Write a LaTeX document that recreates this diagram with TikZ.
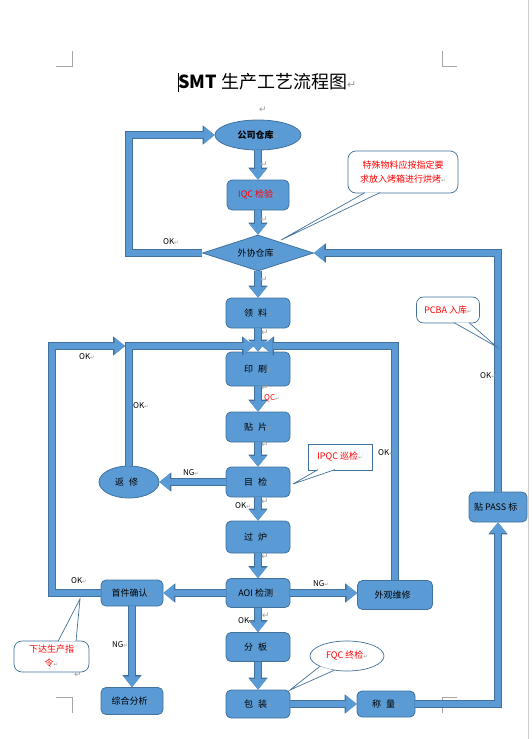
\documentclass[tikz,border=0pt]{standalone}
\usepackage{fontspec}
\setmainfont{Noto Sans CJK SC}
\newfontfamily\dvfont{DejaVu Sans}
\usetikzlibrary{arrows.meta,shapes.geometric}
\definecolor{fillblue}{HTML}{5B9BD5}
\definecolor{edgeblue}{HTML}{41719C}
\definecolor{rtgray}{HTML}{9A9A9A}
\definecolor{txtred}{HTML}{FF0000}
\newcommand{\rtm}{{\color{rtgray}\dvfont\fontsize{5.5}{6}\selectfont ↵}}
\newcommand{\bigrt}{{\color{rtgray}\dvfont\fontsize{9}{9}\selectfont ↵}}
\newcommand{\gp}{\hspace{5pt}}
\newcommand{\barrow}[1]{\draw[blkout] #1; \draw[blkin] #1;}
\tikzset{
  box/.style={draw=edgeblue, fill=fillblue, line width=0.8pt, rounded corners=5pt,
    minimum width=64pt, minimum height=30pt, inner sep=1pt, text=black,
    font=\fontsize{9}{10}\selectfont},
  oval/.style={ellipse, draw=edgeblue, fill=fillblue, line width=0.8pt, inner sep=0pt,
    text=black, font=\fontsize{9}{10}\selectfont},
  blkout/.style={line width=8.2pt, draw=edgeblue,
    -{Triangle[width=19.4pt,length=12pt,line width=0pt]}},
  blkin/.style={line width=6.4pt, draw=fillblue,
    -{Triangle[width=17pt,length=10.5pt,line width=0pt]}},
  lab/.style={inner sep=0pt, font=\fontsize{8}{9}\selectfont, text=black},
  call/.style={draw=edgeblue, fill=white, line width=0.7pt, text=txtred, align=center,
    inner sep=1pt, font=\fontsize{9}{14}\selectfont},
  ptr/.style={draw=edgeblue, line width=0.7pt},
  rmk/.style={inner sep=0pt},
  crop/.style={draw=gray!70, line width=0.6pt}
}
\begin{document}
\begin{tikzpicture}[x=1pt,y=-1pt]
\useasboundingbox (0,0) rectangle (531,739);

% page decorations
\draw[crop] (56,66) -- (72,66) -- (72,51);
\draw[crop] (442,51) -- (442,66) -- (457,66);
\draw[crop] (56,697) -- (72,697) -- (72,713);
\draw[crop] (457,697) -- (442,697) -- (442,713);
\draw[draw=gray!40, line width=0.8pt] (528,0) -- (528,739);

% title
\draw[black, line width=0.8pt] (178,73) -- (178,92);
\node[anchor=west, inner sep=0pt, font=\fontsize{18}{20}\selectfont] (title) at (178,82)
  {{\bfseries SMT} 生产工艺流程图{\color{rtgray}\dvfont\fontsize{11}{11}\selectfont ↵}};
\node[rmk] (r0) at (263,110) {\bigrt};

% nodes
\node[oval, minimum width=86pt, minimum height=30pt, font=\fontsize{9}{10}\selectfont\bfseries] (gs) at (258,135) {公司仓库\rtm};
\node[box, minimum width=62pt] (iqc) at (258,195) {\textcolor{txtred}{IQC 检验}\rtm};
\node[diamond, aspect=3, draw=edgeblue, fill=fillblue, line width=0.8pt, inner sep=0pt,
      minimum width=111pt, minimum height=36pt, font=\fontsize{9}{10}\selectfont] (wx) at (258,253) {外协仓库\rtm};
\node[box] (lk) at (258,313) {领\gp 料\rtm};
\node[box, minimum height=34pt] (ys) at (258,369) {印\gp 刷\rtm};
\node[box] (tp) at (258,427) {贴\gp 片\rtm};
\node[box] (mj) at (258,482) {目\gp 检\rtm};
\node[box, minimum height=32pt] (gl) at (258,537) {过\gp 炉\rtm};
\node[box, minimum height=29pt] (aoi) at (258,593) {AOI 检测\rtm};
\node[box, minimum height=29pt] (fb) at (258,647) {分\gp 板\rtm};
\node[box, minimum height=28pt] (bz) at (258,704) {包\gp 装\rtm};
\node[oval, minimum width=60pt, minimum height=32pt] (fx) at (129,482) {返\gp 修\rtm};
\node[box, minimum width=62pt, minimum height=26pt] (sj) at (132,593) {首件确认\rtm};
\node[box, minimum width=62pt, minimum height=27pt] (zh) at (132,701) {综合分析\rtm};
\node[box, minimum width=75pt, minimum height=29pt] (wg) at (395,595) {外观维修\rtm};
\node[box, minimum width=58pt, minimum height=26pt] (cl) at (386,704) {称\gp 量\rtm};
\node[box, minimum width=58pt, minimum height=30pt] (pass) at (498,507) {贴 PASS 标\rtm};

% helper coordinates
\coordinate (lp) at (129,135);
\coordinate (m1) at (254,346);
\coordinate (m2) at (262,346);
\coordinate (o1) at (52,346);
\coordinate (o2) at (125,346);

% loops
\barrow{(wx.west) -| (lp) -- (gs.west)}
\barrow{(pass.north) |- (wx.east)}
\barrow{(cl.east) -| (pass.south)}
\barrow{(sj.west) -| (o1) -- (o2)}
\barrow{(fx.north) |- (m1)}
\barrow{(wg.north) |- (m2)}

% main column
\barrow{(gs) -- (iqc)}
\barrow{(iqc) -- (wx)}
\barrow{(wx) -- (lk)}
\barrow{(lk) -- (ys)}
\barrow{(ys) -- (tp)}
\barrow{(tp) -- (mj)}
\barrow{(mj) -- (gl)}
\barrow{(gl) -- (aoi)}
\barrow{(aoi) -- (fb)}
\barrow{(fb) -- (bz)}
\barrow{(mj) -- (fx)}
\barrow{(aoi) -- (sj)}
\barrow{(aoi.east) -- (aoi.east -| wg.west)}
\barrow{(sj) -- (zh)}
\barrow{(bz) -- (cl)}

% connector labels
\node[lab] (l1) at (171,242) {OK\rtm};
\node[lab] (l2) at (87,357) {OK\rtm};
\node[lab] (l3) at (141,406) {OK\rtm};
\node[lab, text=txtred] (l4) at (272,398) {QC\rtm};
\node[lab] (l5) at (386,453) {OK\rtm};
\node[lab] (l6) at (191,473) {NG\rtm};
\node[lab] (l7) at (243,506) {OK\rtm};
\node[lab] (l8) at (488,376) {OK\rtm};
\node[lab] (l9) at (79,581) {OK\rtm};
\node[lab] (l10) at (321,584) {NG\rtm};
\node[lab] (l11) at (246,621) {OK\rtm};
\node[lab] (l12) at (120,645) {NG\rtm};

% paragraph marks
\node[rmk] (r1) at (264,165) {\bigrt};
\node[rmk] (r2) at (264,220) {\bigrt};
\node[rmk] (r3) at (264,280) {\bigrt};
\node[rmk] (r4) at (265,333) {\bigrt};
\node[rmk] (r5) at (265,388) {\bigrt};
\node[rmk] (r6) at (265,445) {\bigrt};
\node[rmk] (r7) at (265,502) {\bigrt};
\node[rmk] (r8) at (265,557) {\bigrt};
\node[rmk] (r9) at (266,616) {\bigrt};
\node[rmk] (r10) at (78,675) {\bigrt};

% callouts
\node[call, rounded corners=8pt, minimum width=110pt, minimum height=42pt] (tsl) at (403,172)
  {特殊物料应按指定要\\求放入烤箱进行烘烤\rtm};
\coordinate (ta) at (365,192.6); \coordinate (tb) at (380,192.6); \coordinate (tt) at (281,240);
\fill[white] (ta) -- (tt) -- (tb) -- cycle; \draw[ptr] (ta) -- (tt) -- (tb);

\node[call, rounded corners=7pt, minimum width=63pt, minimum height=26pt] (pcba) at (448,310) {PCBA 入库\rtm};
\coordinate (pa) at (454,322.6); \coordinate (pb) at (469,322.6); \coordinate (pt) at (497,347);
\fill[white] (pa) -- (pt) -- (pb) -- cycle; \draw[ptr] (pa) -- (pt) -- (pb);

\node[call, minimum width=64pt, minimum height=26pt] (ipqc) at (340,457) {IPQC 巡检\rtm};
\coordinate (ia) at (318,469.6); \coordinate (ib) at (335,469.6); \coordinate (it) at (293,484);
\fill[white] (ia) -- (it) -- (ib) -- cycle; \draw[ptr] (ia) -- (it) -- (ib);

\node[call, ellipse, inner sep=0pt, minimum width=74pt, minimum height=30pt] (fqc) at (347,656) {FQC 终检\rtm};
\coordinate (ft) at (290,690);
\fill[white] (fqc.201) -- (ft) -- (fqc.228) -- cycle; \draw[ptr] (fqc.201) -- (ft) -- (fqc.228);

\node[call, rounded corners=8pt, minimum width=75pt, minimum height=31pt] (xd) at (51.5,656.5) {下达生产指\\令\rtm};
\coordinate (xa) at (58,641.4); \coordinate (xb) at (76,641.4); \coordinate (xt) at (80,599);
\fill[white] (xa) -- (xt) -- (xb) -- cycle; \draw[ptr] (xa) -- (xt) -- (xb);
\end{tikzpicture}
\end{document}
